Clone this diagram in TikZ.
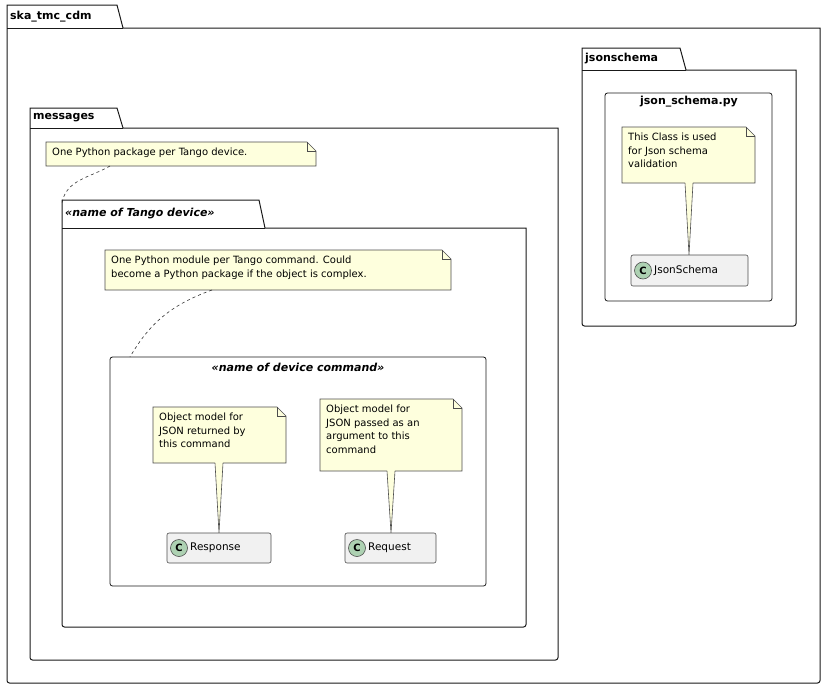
\documentclass[tikz,border=0pt]{standalone}
\usepackage{fontspec}
\setmainfont{DejaVu Sans}
\begin{document}
\begin{tikzpicture}[x=1pt,y=-1pt,
  line/.style={draw=black!90,line width=1pt},
  notefill/.style={fill=notec,draw=black!70,line width=0.6pt},
  ntext/.style={font=\fontsize{10}{13.5}\selectfont,align=left,anchor=north west,inner sep=0pt},
  ptext/.style={font=\fontsize{11}{13}\selectfont\bfseries,anchor=west,inner sep=0pt},
  cls/.style={draw=black!70,fill=clsc,rounded corners=2pt,line width=0.6pt},
  ctext/.style={font=\fontsize{10.5}{12}\selectfont,anchor=west,inner sep=0pt}]
\definecolor{notec}{HTML}{FEFFDD}
\definecolor{clsc}{HTML}{F1F1F1}
\definecolor{circc}{HTML}{ADD1B2}
\useasboundingbox (0,0) rectangle (826,689);
\newcommand{\pkgfolder}[7]{%
  \draw[line] (#1,#4) -- (#1,#2) -- (#3,#2) -- (#3+6,#4) -- (#5,#4) [rounded corners=2.5pt]-- (#5,#6) -- (#1,#6) -- (#1,#4);
  \draw[line] (#1,#4) -- (#3+6,#4);
  \node[ptext] at (#1+3,{(#2+#4)/2}) {#7};}
\newcommand{\notebox}[5]{% x1 y1 x2 y2 name
  \draw[notefill] (#1,#2) -- (#3-9,#2) -- (#3,#2+9) -- (#3,#4) -- (#1,#4) -- cycle;
  \draw[draw=black!70,line width=0.6pt] (#3-9,#2) -- (#3-9,#2+9) -- (#3,#2+9);
  \coordinate (#5) at (#1+6,#2+6);}
\newcommand{\pointer}[3]{% x bottomy targety
  \fill[notec] (#1-4,#2-1) -- (#1,#3) -- (#1+4,#2-1) -- cycle;
  \draw[draw=black!70,line width=0.6pt] (#1-4,#2) -- (#1,#3) -- (#1+4,#2);}
\newcommand{\classbox}[5]{% x1 y1 x2 y2 label
  \draw[cls] (#1,#2) rectangle (#3,#4);
  \draw[fill=circc,draw=black!70,line width=0.6pt] (#1+12,{(#2+#4)/2}) circle (8.5);
  \node[font=\fontsize{10}{12}\selectfont\bfseries,inner sep=0pt] at (#1+12,{(#2+#4)/2}) {C};
  \node[ctext] at (#1+23,{(#2+#4)/2}) {#5};}

% outer
\pkgfolder{7}{5}{117}{28}{820}{683}{ska\_tmc\_cdm}
% jsonschema
\pkgfolder{582}{48}{680}{70}{796}{326}{jsonschema}
\draw[draw=black!90,line width=0.8pt,rounded corners=2.5pt] (605,93) rectangle (772,301);
\node[font=\fontsize{11}{13}\selectfont\bfseries] (jsp) at (689,102) {json\_schema.py};
\notebox{622}{127}{755}{183}{n0}
\node[ntext] at (n0) {This Class is used\\for Json schema\\validation};
\pointer{689}{183}{255}
\classbox{631}{255}{748}{286}{JsonSchema}

% messages
\pkgfolder{30}{108}{117}{128}{558}{660}{messages}
\notebox{46}{142}{316}{166}{n1}
\node[ntext] at (n1) {One Python package per Tango device.};
\coordinate (n1b) at (110,166);
\coordinate (tdt) at (62,203);
\draw[dashed,line width=0.6pt,draw=black!80] (n1b) to[out=-150,in=80] (tdt);

% name of Tango device
\pkgfolder{62}{200}{259}{228}{526}{627}{\itshape «name of Tango device»}
\notebox{105}{250}{451}{290}{n2}
\node[ntext] at (n2) {One Python module per Tango command. Could\\become a Python package if the object is complex.};
\coordinate (n2b) at (212,290);
\coordinate (cmdt) at (130,357);
\draw[dashed,line width=0.6pt,draw=black!80] (n2b) to[out=-160,in=60] (cmdt);

% command
\draw[draw=black!90,line width=0.8pt,rounded corners=2.5pt] (110,357) rectangle (486,586);
\node[font=\fontsize{11}{13}\selectfont\bfseries\itshape] (cmd) at (298,367) {«name of device command»};
\notebox{153}{407}{286}{463}{n3}
\node[ntext] at (n3) {Object model for\\JSON returned by\\this command};
\pointer{219}{463}{533}
\classbox{167}{533}{271}{563}{Response}
\notebox{320}{399}{462}{471}{n4}
\node[ntext] at (n4) {Object model for\\JSON passed as an\\argument to this\\command};
\pointer{391}{471}{533}
\classbox{345}{533}{436}{563}{Request}
\end{tikzpicture}
\end{document}
